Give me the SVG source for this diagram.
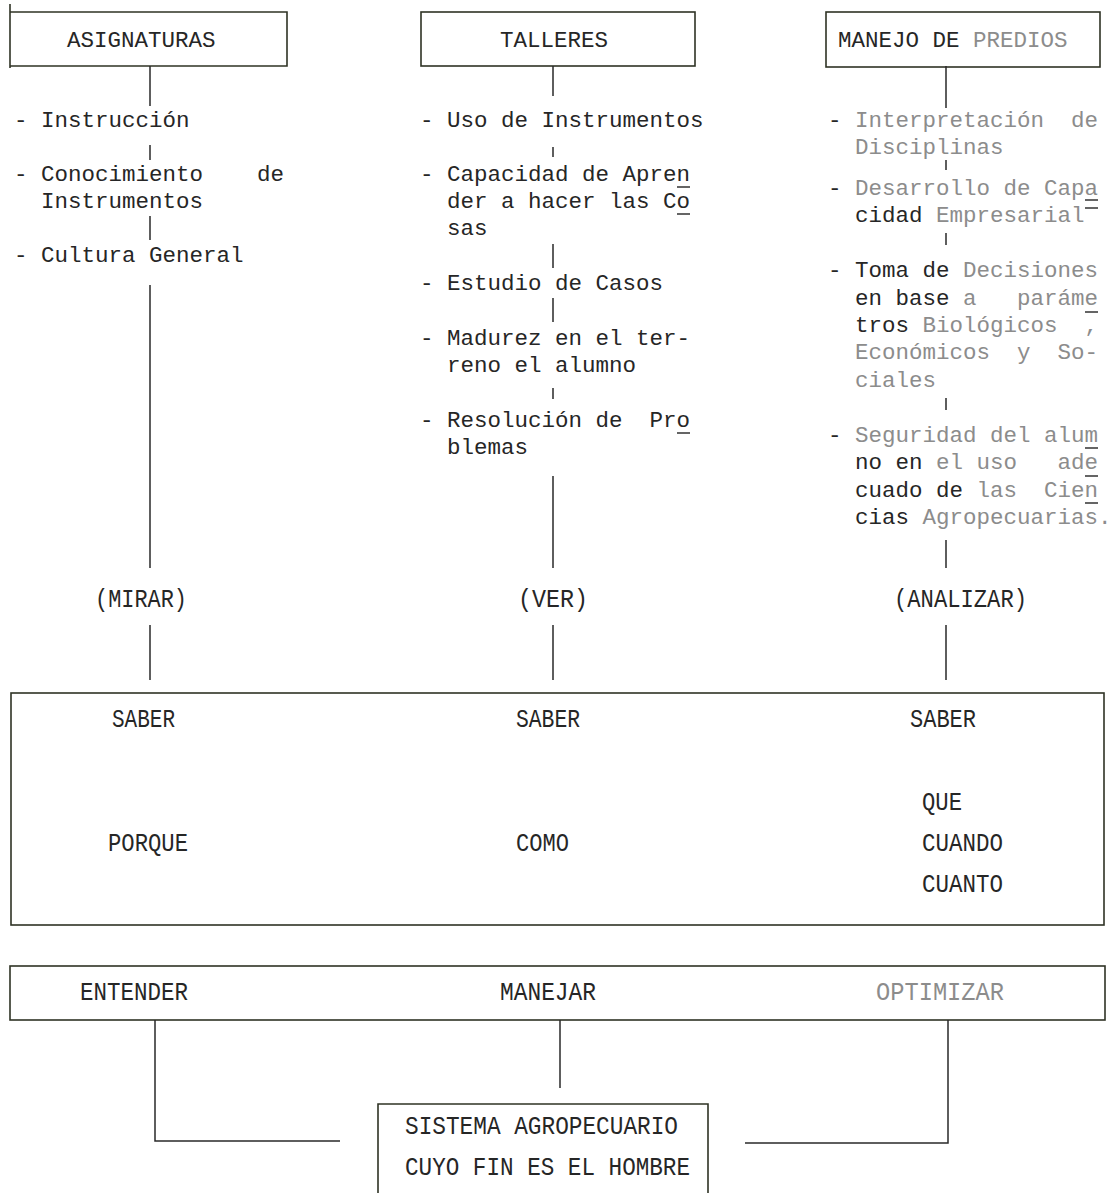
<svg xmlns="http://www.w3.org/2000/svg" width="1110" height="1193" viewBox="0 0 1110 1193">
<style>
.bg{fill:#fff}
.box{fill:none;stroke:#2f3325;stroke-width:1.6}
.ln{fill:none;stroke:#2a2a2a;stroke-width:1.5}
.mk{fill:none;stroke:#333;stroke-width:1.5}
.t{font-family:"Liberation Mono","DejaVu Sans Mono",monospace;font-size:22.5px;fill:#262626;white-space:pre}
.c{font-family:"Liberation Mono","DejaVu Sans Mono",monospace;font-size:25px;fill:#262626}
.g{fill:#8c8c8c}
</style>
<rect class="bg" x="0" y="0" width="1110" height="1193"/>

<g id="asignaturas">
<path class="box" d="M10 12H287V66H10"/>
<path class="box" d="M10 4V68" stroke-width="2.5"/>
<text class="t" x="67" y="47">ASIGNATURAS</text>
</g>
<g id="talleres">
<rect class="box" x="421" y="12" width="274" height="54"/>
<text class="t" x="500" y="47">TALLERES</text>
</g>
<g id="manejo">
<rect class="box" x="826" y="12" width="274" height="55"/>
<text class="t" x="838" y="47">MANEJO DE <tspan class="g">PREDIOS</tspan></text>
</g>

<g id="col1" xml:space="preserve">
<text class="t" x="14" y="127">- Instrucción</text>
<text class="t" x="14" y="181">- Conocimiento    de</text>
<text class="t" x="14" y="208">  Instrumentos</text>
<text class="t" x="14" y="262">- Cultura General</text>
</g>

<g id="col2" xml:space="preserve">
<text class="t" x="420" y="127">- Uso de Instrumentos</text>
<text class="t" x="420" y="181">- Capacidad de Apren</text>
<text class="t" x="420" y="208">  der a hacer las Co</text>
<text class="t" x="420" y="235">  sas</text>
<text class="t" x="420" y="290">- Estudio de Casos</text>
<text class="t" x="420" y="345">- Madurez en el ter-</text>
<text class="t" x="420" y="372">  reno el alumno</text>
<text class="t" x="420" y="427">- Resolución de  Pro</text>
<text class="t" x="420" y="454">  blemas</text>
<path class="mk" d="M677 187H690M677 214H690M677 433H690"/>
</g>

<g id="col3" xml:space="preserve">
<text class="t" x="828" y="127">- <tspan class="g">Interpretación  de</tspan></text>
<text class="t g" x="828" y="154">  Disciplinas</text>
<text class="t" x="828" y="195">- <tspan class="g">Desarrollo de Capa</tspan></text>
<text class="t" x="828" y="222">  cidad <tspan class="g">Empresarial</tspan></text>
<text class="t" x="828" y="277">- Toma de <tspan class="g">Decisiones</tspan></text>
<text class="t" x="828" y="305">  en base <tspan class="g">a   paráme</tspan></text>
<text class="t" x="828" y="332">  tros <tspan class="g">Biológicos  ,</tspan></text>
<text class="t g" x="828" y="359">  Económicos  y  So-</text>
<text class="t g" x="828" y="387">  ciales</text>
<text class="t" x="828" y="442">- <tspan class="g">Seguridad del alum</tspan></text>
<text class="t" x="828" y="469">  no en <tspan class="g">el uso   ade</tspan></text>
<text class="t" x="828" y="497">  cuado de <tspan class="g">las  Cien</tspan></text>
<text class="t" x="828" y="524">  cias <tspan class="g">Agropecuarias.</tspan></text>
<path class="mk" d="M1085 200H1098M1085 208H1098M1085 312H1098M1085 448H1098M1085 476H1098M1085 503H1098"/>
</g>

<g id="verbs">
<text class="c" x="95" y="607" textLength="92" lengthAdjust="spacingAndGlyphs">(MIRAR)</text>
<text class="c" x="518" y="607" textLength="70" lengthAdjust="spacingAndGlyphs">(VER)</text>
<text class="c" x="894" y="607" textLength="133" lengthAdjust="spacingAndGlyphs">(ANALIZAR)</text>
</g>

<g id="saber">
<rect class="box" x="11" y="693" width="1093" height="232"/>
<text class="c" x="112" y="727" textLength="63" lengthAdjust="spacingAndGlyphs">SABER</text>
<text class="c" x="516" y="727" textLength="64" lengthAdjust="spacingAndGlyphs">SABER</text>
<text class="c" x="910" y="727" textLength="66" lengthAdjust="spacingAndGlyphs">SABER</text>
<text class="c" x="108" y="851" textLength="80" lengthAdjust="spacingAndGlyphs">PORQUE</text>
<text class="c" x="516" y="851" textLength="53" lengthAdjust="spacingAndGlyphs">COMO</text>
<text class="c" x="922" y="810" textLength="40" lengthAdjust="spacingAndGlyphs">QUE</text>
<text class="c" x="922" y="851" textLength="81" lengthAdjust="spacingAndGlyphs">CUANDO</text>
<text class="c" x="922" y="892" textLength="81" lengthAdjust="spacingAndGlyphs">CUANTO</text>
</g>

<g id="acciones">
<rect class="box" x="10" y="966" width="1095" height="54"/>
<text class="c" x="80" y="1000" textLength="108" lengthAdjust="spacingAndGlyphs">ENTENDER</text>
<text class="c" x="500" y="1000" textLength="96" lengthAdjust="spacingAndGlyphs">MANEJAR</text>
<text class="c g" x="876" y="1000" textLength="128" lengthAdjust="spacingAndGlyphs">OPTIMIZAR</text>
</g>

<g id="sistema">
<path class="box" d="M378 1193V1104H708V1193"/>
<text class="c" x="405" y="1134" textLength="273" lengthAdjust="spacingAndGlyphs">SISTEMA AGROPECUARIO</text>
<text class="c" x="405" y="1175" textLength="285" lengthAdjust="spacingAndGlyphs">CUYO FIN ES EL HOMBRE</text>
</g>

<g id="connectors">
<path class="ln" d="M150 66V106M150 145V160M150 216V240M150 285V568M150 625V680"/>
<path class="ln" d="M553 66V96M553 147V157M553 244V268M553 298V322M553 388V399M553 476V568M553 625V680"/>
<path class="ln" d="M946 66V108M946 160V170M946 233V245M946 398V410M946 540V568M946 625V680"/>
<path class="ln" d="M155 1020V1141H340M560 1020V1088M948 1020V1143H745"/>
</g>
</svg>
